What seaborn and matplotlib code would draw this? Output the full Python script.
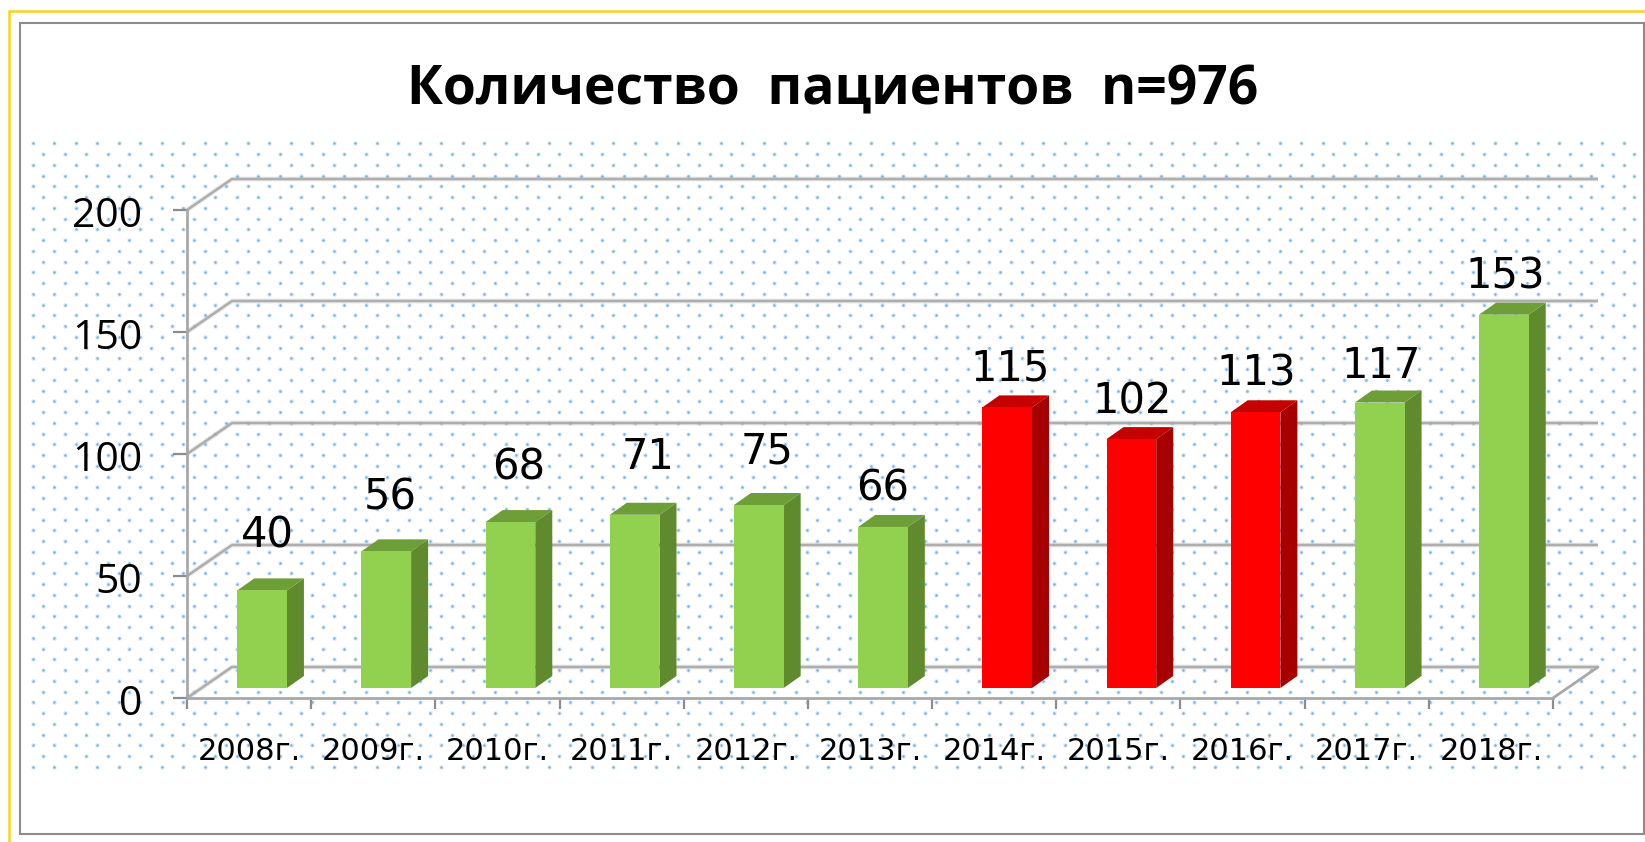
import numpy as np
import pandas as pd
import matplotlib
matplotlib.use("Agg")
import matplotlib.pyplot as plt
from matplotlib.patches import Polygon, Rectangle
from matplotlib.transforms import Affine2D
import seaborn as sns

# ---- data ----
years = ["2008г.", "2009г.", "2010г.", "2011г.", "2012г.", "2013г.",
         "2014г.", "2015г.", "2016г.", "2017г.", "2018г."]
patients = [40, 56, 68, 71, 75, 66, 115, 102, 113, 117, 153]
highlighted = ["2014г.", "2015г.", "2016г."]
title = "Количество  пациентов  n=976"

# ---- styles ----
GREEN = dict(front="#92D050", side="#5F8A2E", top="#6E9E38")
RED = dict(front="#FF0000", side="#A60000", top="#C40000")
GRID = "#a8a8a8"
W, H = 1645, 842
# pixel nudges of the value labels relative to their bars
label_dx = [5, 4, 8, 13, 8, 0, 3, 1, 1, 1, 1]
label_dy = [55, 54, 55, 58, 53, 38, 39, 38, 39, 37, 38]

sns.set_theme(style="white")
fig = plt.figure(figsize=(W / 100, H / 100), dpi=100, facecolor="white")

# ---- page background in pixel coordinates ----
bg = fig.add_axes([0, 0, 1, 1], zorder=0)
bg.set_xlim(0, W)
bg.set_ylim(H, 0)
bg.axis("off")
bg.plot([8.5, 8.5, W], [H, 11, 11], color="#FFD21A", lw=1.8, solid_joinstyle="miter")
bg.add_patch(Rectangle((20, 23), 1624, 811, fill=False, ec="#8c8c8c", lw=1.5))
rows = np.arange(143.3, 770, 10.75)
xs, ys = [], []
for k, ry in enumerate(rows):
    cols = np.arange(32.7, 1626, 21.5) if k % 2 == 0 else np.arange(43.4, 1637, 21.5)
    xs.extend(cols)
    ys.extend([ry] * len(cols))
bg.scatter(xs, ys, s=12, color="#a8cff0", alpha=0.35, linewidths=0)
bg.scatter(xs, ys, s=3.2, color="#6aaae4", alpha=0.9, linewidths=0)

# ---- chart ----
x0, x1, y0, y1 = 187, 1553, 698, 210
ax = fig.add_axes([x0 / W, (H - y0) / H, (x1 - x0) / W, (y0 - y1) / H], zorder=1)
ax.patch.set_alpha(0)

df = pd.DataFrame({"year": years, "patients": patients})
schemes = [RED if y in highlighted else GREEN for y in years]
sns.barplot(data=df, x="year", y="patients", hue="year",
            palette=[s["front"] for s in schemes], dodge=False,
            width=0.4, legend=False, ax=ax, saturation=1, zorder=5)
ax.set_xlim(-0.5, 10.5)
ax.set_ylim(0, 200)

px_x = (x1 - x0) / 11
px_y = (y0 - y1) / 200

# back wall + floor, drawn with the axis scales
wall_dx, wall_dy = 45 / px_x, 31 / px_y
for v in range(0, 201, 50):
    for lw, a in ((3.6, 0.2), (1.9, 0.9)):
        ax.plot([-0.5, -0.5 + wall_dx, 10.5 + wall_dx],
                [v, v + wall_dy, v + wall_dy], color=GRID, lw=lw, alpha=a,
                clip_on=False, zorder=1, solid_capstyle="butt")
ax.plot([10.5, 10.5 + wall_dx], [0, wall_dy], color=GRID, lw=2, clip_on=False, zorder=1)

# 3D bars
shift = 13 / px_x
base = 10 / px_y
dep_x, dep_y = 17 / px_x, 12 / px_y
bars = sorted(ax.patches[:len(years)], key=lambda p: p.get_x())
for i, (bar, s, v) in enumerate(zip(bars, schemes, patients)):
    bar.set_x(bar.get_x() + shift)
    bar.set_y(base)
    bar.set_clip_on(False)
    bar.set_edgecolor("none")
    l = bar.get_x()
    r = l + bar.get_width()
    t = base + v
    ax.add_patch(Polygon([(r, base), (r + dep_x, base + dep_y), (r + dep_x, t + dep_y), (r, t)],
                         closed=True, fc=s["side"], ec="none", zorder=4, clip_on=False))
    ax.add_patch(Polygon([(l, t), (l + dep_x, t + dep_y), (r + dep_x, t + dep_y), (r, t)],
                         closed=True, fc=s["top"], ec="none", zorder=4, clip_on=False))
    tr = ax.transData + Affine2D().translate(label_dx[i], label_dy[i])
    ax.text((l + r) / 2, t, str(v), transform=tr, ha="center", va="center",
            fontsize=30, color="black", family="DejaVu Sans", zorder=6, clip_on=False)

# axes
for side in ("top", "right"):
    ax.spines[side].set_visible(False)
for side in ("left", "bottom"):
    ax.spines[side].set_color(GRID)
    ax.spines[side].set_linewidth(2)
ax.set_xlabel("")
ax.set_ylabel("")
ax.set_yticks(range(0, 201, 50))
ax.set_xticks(range(len(years)))
ax.set_xticklabels(years, fontsize=22, color="black", family="DejaVu Sans")
ax.set_xticks(np.arange(-0.5, 11, 1), minor=True)
ax.tick_params(axis="x", which="major", length=0, pad=28, bottom=False)
ax.tick_params(axis="x", which="minor", length=8, width=1.6, color="#8c8c8c", bottom=True)
ax.tick_params(axis="y", which="major", length=10, width=1.6, color="#8c8c8c", left=True, pad=22)
for lab in ax.get_yticklabels():
    lab.set_fontsize(29.5)
    lab.set_family("Open Sans")
    lab.set_color("black")
    lab.set_transform(lab.get_transform() + Affine2D().translate(0, -2))

fig.text(833 / W, 1 - 90 / H, title, ha="center", va="center",
         fontsize=38.5, fontweight="bold", color="black", family="Open Sans")

fig.savefig("out.png", dpi=100, facecolor="white")
